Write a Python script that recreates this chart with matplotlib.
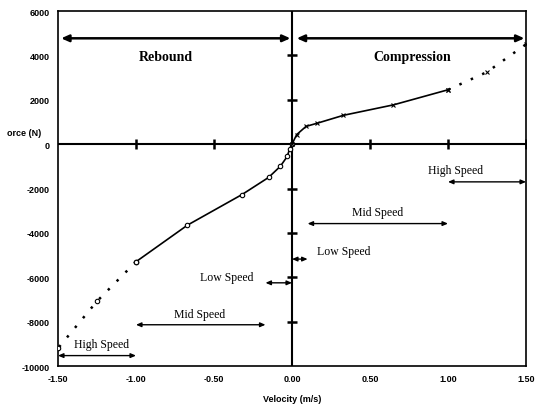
import numpy as np
import matplotlib.pyplot as plt

plt.rcParams["axes.unicode_minus"] = False

# damper force vs velocity
reb_vel = [0.0, -0.015, -0.03, -0.075, -0.15, -0.32, -0.67, -1.0, -1.25, -1.5]
reb_force = [0, -200, -550, -1000, -1500, -2270, -3650, -5300, -7080, -9200]
comp_vel = [0.0, 0.03, 0.09, 0.16, 0.33, 0.65, 1.0, 1.25, 1.5]
comp_force = [0, 430, 800, 940, 1300, 1770, 2450, 3250, 4500]

xticks = [-1.5, -1.0, -0.5, 0.0, 0.5, 1.0, 1.5]
xticklabels = ["-1.50", "-1.00", "-0.50", "0.00", "0.50", "1.00", "1.50"]
yticks = [6000, 4000, 2000, 0, -2000, -4000, -6000, -8000, -10000]

# speed range annotations: (label, x0, x1, arrow y, text x, text y)
ranges = [
    ("High Speed", 1.0, 1.5, -1700, 1.05, -1150),
    ("Mid Speed", 0.1, 1.0, -3580, 0.55, -3080),
    ("Low Speed", 0.0, 0.1, -5180, 0.33, -4830),
    ("Low Speed", -0.17, 0.0, -6250, -0.42, -5990),
    ("Mid Speed", -1.0, -0.17, -8140, -0.59, -7660),
    ("High Speed", -1.5, -1.0, -9530, -1.22, -9010),
]

serif = "Liberation Serif"
sans = "Liberation Sans"

fig = plt.figure(figsize=(5.35, 4.06), dpi=100)
ax = fig.add_axes([0.1084, 0.096, 0.8748, 0.8744])
ax.set_xlim(-1.5, 1.5)
ax.set_ylim(-10000, 6000)

# solid measured part, dotted extrapolated part
n_reb = reb_vel.index(-1.0) + 1
n_comp = comp_vel.index(1.0) + 1
ax.plot(reb_vel[:n_reb], reb_force[:n_reb], color="black", lw=1.2,
        marker="o", ms=3.2, mfc="white", mec="black", mew=0.8, zorder=4)
ax.plot(reb_vel[n_reb - 1:], reb_force[n_reb - 1:], color="black", lw=1.8,
        ls=(0, (1, 4)), marker="o", ms=3.2, mfc="white", mec="black",
        mew=0.8, zorder=4)
ax.plot(comp_vel[:n_comp], comp_force[:n_comp], color="black", lw=1.2,
        marker="x", ms=3.2, mew=0.8, zorder=4)
ax.plot(comp_vel[n_comp - 1:], comp_force[n_comp - 1:], color="black", lw=1.8,
        ls=(0, (1, 4)), marker="x", ms=3.2, mew=0.8, zorder=4)

# zero axes with their own tick marks
ax.axhline(0, color="black", lw=1.5, zorder=3)
ax.axvline(0, color="black", lw=1.5, zorder=3)
inner_x = [t for t in xticks if t not in (0.0, -1.5, 1.5)]
inner_y = [t for t in yticks if t not in (0, 6000, -10000)]
ax.plot(inner_x, [0] * len(inner_x), ls="none", marker="|", ms=7,
        mew=1.8, color="black", zorder=3)
ax.plot([0] * len(inner_y), inner_y, ls="none", marker="_", ms=7,
        mew=1.8, color="black", zorder=3)
ax.plot([1.5], [0], ls="none", marker="|", ms=7, mew=1.8, color="black")

# rebound / compression spans
head = dict(arrowstyle="<|-|>,head_length=0.45,head_width=0.2", color="black",
            lw=1.8, shrinkA=0, shrinkB=0)
ax.annotate("", xy=(-1.48, 4770), xytext=(-0.01, 4770), arrowprops=head)
ax.annotate("", xy=(0.03, 4770), xytext=(1.49, 4770), arrowprops=head)
ax.text(-0.81, 3950, "Rebound", family=serif, fontweight="bold", fontsize=10,
        ha="center", va="center")
ax.text(0.77, 3960, "Compression", family=serif, fontweight="bold",
        fontsize=10, ha="center", va="center")

thin = dict(arrowstyle="<|-|>,head_length=0.3,head_width=0.13",
            color="black", lw=1.0, shrinkA=0, shrinkB=0)
for label, x0, x1, ya, tx, ty in ranges:
    ax.annotate("", xy=(x0, ya), xytext=(x1, ya), arrowprops=thin)
    ax.text(tx, ty, label, family=serif, fontsize=8.5, ha="center",
            va="center")

ax.set_xticks(xticks)
ax.set_xticklabels(xticklabels)
ax.set_yticks(yticks)
ax.tick_params(length=0, labelsize=6.5, pad=6)
for lbl in ax.get_xticklabels() + ax.get_yticklabels():
    lbl.set_family(sans)
    lbl.set_fontweight("bold")
for sp in ax.spines.values():
    sp.set_linewidth(1.2)

ax.set_xlabel("Velocity (m/s)", family=sans, fontweight="bold", fontsize=6.5,
              labelpad=8)
fig.text(0.013, 0.672, "orce (N)", family=sans, fontweight="bold",
         fontsize=6.5, ha="left", va="center")

fig.savefig("out.png", dpi=100)
